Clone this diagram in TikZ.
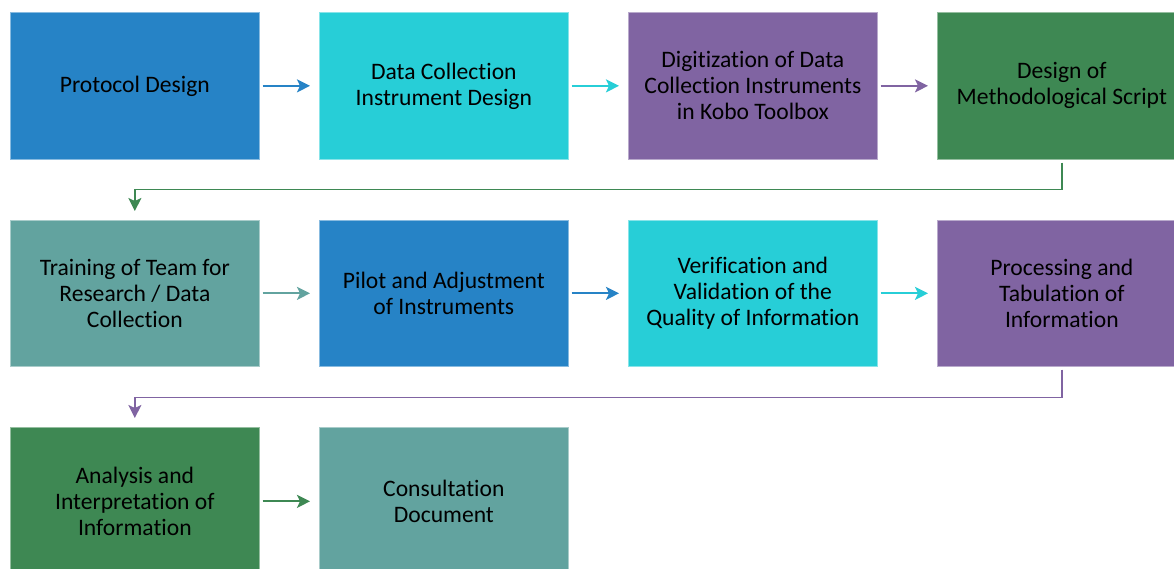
\documentclass[tikz,border=0pt]{standalone}
\usepackage{fontspec}
\setmainfont{Carlito}[Ligatures={NoCommon}]
\usetikzlibrary{arrows.meta}
\definecolor{cblue}{HTML}{2683C6}
\definecolor{ccyan}{HTML}{27CED7}
\definecolor{cpurple}{HTML}{8064A2}
\definecolor{cgreen}{HTML}{3E8853}
\definecolor{cteal}{HTML}{62A39F}
\begin{document}
\begin{tikzpicture}[x=1pt,y=-1pt,
  box/.style={fill=#1, draw=#1!55!white, line width=0.7pt, minimum width=249pt, minimum height=147pt,
    inner sep=0pt, align=center, anchor=north west, font=\fontsize{23.6}{26}\selectfont, text=black},
  arr/.style={draw=#1, line width=1.8pt, shorten <=3pt, shorten >=9pt,
    -{Stealth[length=13pt, width=13pt, inset=3pt]}}]
\useasboundingbox (0,0) rectangle (1174,569);
\clip (0,0) rectangle (1174,569);
\fill[white] (0,0) rectangle (1174,569);
% row 1
\node[box=cblue] (n1) at (10,12) {Protocol Design};
\node[box=ccyan] (n2) at (319,12) {Data Collection\\Instrument Design};
\node[box=cpurple] (n3) at (628,12) {Digitization of Data\\Collection Instruments\\in Kobo Toolbox};
\node[box=cgreen] (n4) at (937,12) {Design of\\Methodological Script};
% row 2
\node[box=cteal, minimum height=146pt] (n5) at (10,220) {Training of Team for\\Research / Data\\Collection};
\node[box=cblue, minimum height=146pt] (n6) at (319,220) {Pilot and Adjustment\\of Instruments};
\node[box=ccyan, minimum height=146pt] (n7) at (628,220) {Verification and\\Validation of the\\Quality of Information};
\node[box=cpurple, minimum height=146pt] (n8) at (937,220) {Processing and\\Tabulation of\\Information};
% row 3
\node[box=cgreen, minimum height=148pt] (n9) at (10,427) {Analysis and\\Interpretation of\\Information};
\node[box=cteal, minimum height=148pt] (n10) at (319,427) {Consultation\\Document};
% connectors
\draw[arr=cblue] (n1.east) -- (n2.west);
\draw[arr=ccyan] (n2.east) -- (n3.west);
\draw[arr=cpurple] (n3.east) -- (n4.west);
\draw[arr=cgreen, line width=1.5pt] (n4.south) -- ++(0,30) -| (n5.north);
\draw[arr=cteal] (n5.east) -- (n6.west);
\draw[arr=cblue] (n6.east) -- (n7.west);
\draw[arr=ccyan] (n7.east) -- (n8.west);
\draw[arr=cpurple, line width=1.5pt] (n8.south) -- ++(0,31) -| (n9.north);
\draw[arr=cgreen] (n9.east) -- (n10.west);
\end{tikzpicture}
\end{document}
